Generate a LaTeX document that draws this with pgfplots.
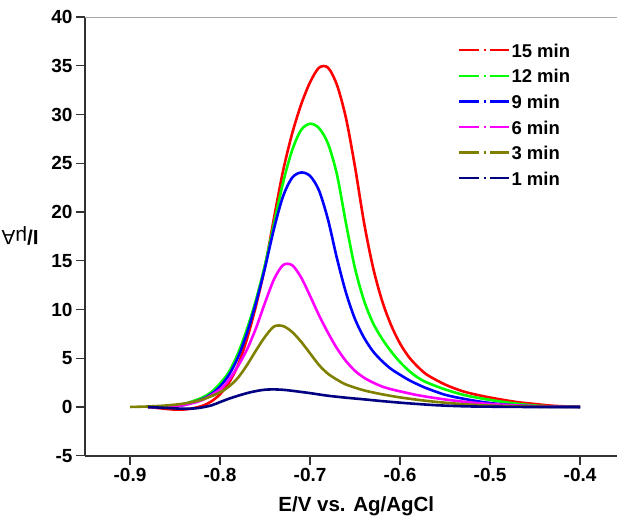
\documentclass[border=0pt]{standalone}
\usepackage{fontspec}
\setmainfont{Liberation Sans}
\usepackage{pgfplots}
\pgfplotsset{compat=1.18}

\definecolor{c15}{RGB}{255,0,0}
\definecolor{c12}{RGB}{0,255,0}
\definecolor{c9}{RGB}{0,0,255}
\definecolor{c6}{RGB}{255,0,255}
\definecolor{c3}{RGB}{128,128,0}
\definecolor{c1}{RGB}{0,0,128}
\definecolor{axisgray}{RGB}{50,50,50}

\begin{document}
\begin{tikzpicture}
\begin{axis}[
  scale only axis, width=532pt, height=438.7pt,
  xmin=-0.95, xmax=-0.359, ymin=-5, ymax=40,
  clip=false,
  axis x line*=bottom, axis y line*=left,
  axis line style={-, draw=axisgray, line width=1.8pt},
  xtick={-0.9,-0.8,-0.7,-0.6,-0.5,-0.4},
  ytick={-5,0,5,10,15,20,25,30,35,40},
  tick align=outside, major tick length=9pt,
  tick style={axisgray, line width=1.3pt},
  /pgf/number format/assume math mode=true,
  xticklabel style={/pgf/number format/.cd, fixed, fixed zerofill, precision=1},
  tick label style={font=\fontsize{19}{19}\selectfont\bfseries},
  xlabel={E/V vs. Ag/AgCl},
  xlabel style={at={(axis description cs:0.51,-0.128)}, anchor=base,
    font=\fontsize{20.5}{20.5}\selectfont\bfseries},
  ylabel={\bfseries I/\mdseries μA},
  ylabel style={at={(axis description cs:-0.122,0.5)}, anchor=center, rotate=90,
    font=\fontsize{20.5}{20.5}\selectfont},
  legend style={at={(0.701,0.943)}, anchor=north west, draw=none, fill=none,
    font=\fontsize{18.5}{18.5}\selectfont\bfseries, row sep=9.6pt, inner sep=0pt,
    nodes={inner sep=1pt, text height=14pt, text depth=0pt}},
  legend cell align=left,
  legend image code/.code={
    \draw[#1, line width=2.4pt] (0pt,0pt) -- (20pt,0pt);
    \draw[#1, line width=2.4pt] (24.5pt,0pt) -- (26.5pt,0pt);
    \draw[#1, line width=2.4pt] (31pt,0pt) -- (50pt,0pt);
  },
  every axis plot/.append style={line width=2.6pt, smooth},
]

% 15 min
\addplot[c15] coordinates {
(-0.88,0) (-0.865,-0.15) (-0.85,-0.27) (-0.835,-0.22) (-0.82,0.1) (-0.81,0.55)
(-0.80,1.3) (-0.79,2.5) (-0.78,4.3) (-0.77,7.0) (-0.76,10.4) (-0.75,14.4)
(-0.74,19.4) (-0.73,24.2) (-0.72,28.0) (-0.71,31.0) (-0.70,33.3) (-0.69,34.8)
(-0.68,34.8) (-0.67,33.0) (-0.66,29.6) (-0.65,24.6) (-0.64,18.9)
(-0.63,14.3) (-0.62,10.9) (-0.61,8.4) (-0.60,6.5) (-0.59,5.1) (-0.58,4.1)
(-0.57,3.3) (-0.55,2.3) (-0.53,1.6) (-0.51,1.15) (-0.49,0.8) (-0.47,0.5)
(-0.45,0.3) (-0.43,0.12) (-0.40,0)
};
\addlegendentry{15 min}

% 12 min
\addplot[c12] coordinates {
(-0.88,0) (-0.86,0) (-0.84,0.3) (-0.83,0.6) (-0.82,0.95) (-0.81,1.5)
(-0.80,2.4) (-0.79,3.6) (-0.78,5.5) (-0.77,8.0) (-0.76,11.0) (-0.75,14.6)
(-0.74,18.8) (-0.73,23.0) (-0.72,26.3) (-0.71,28.4) (-0.70,29.05) (-0.69,28.6)
(-0.68,27.0) (-0.67,23.8) (-0.66,18.8) (-0.65,14.2) (-0.64,10.9) (-0.63,8.6)
(-0.62,7.0) (-0.61,5.7) (-0.60,4.6) (-0.59,3.7) (-0.58,3.0) (-0.57,2.5)
(-0.55,1.8) (-0.53,1.25) (-0.51,0.88) (-0.49,0.58) (-0.47,0.33) (-0.45,0.15)
(-0.43,0.05) (-0.40,0)
};
\addlegendentry{12 min}

% 9 min
\addplot[c9] coordinates {
(-0.88,0) (-0.86,0) (-0.84,0.2) (-0.82,0.8) (-0.81,1.3) (-0.80,2.1)
(-0.79,3.3) (-0.78,5.1) (-0.77,7.6) (-0.76,10.7) (-0.75,14.3) (-0.74,18.3)
(-0.73,21.6) (-0.72,23.5) (-0.71,24.05) (-0.70,23.7) (-0.69,22.2) (-0.68,19.2)
(-0.67,15.2) (-0.66,11.7) (-0.65,9.0) (-0.64,7.1) (-0.63,5.7) (-0.62,4.7)
(-0.61,3.9) (-0.60,3.3) (-0.59,2.75) (-0.58,2.3) (-0.57,1.9) (-0.55,1.25)
(-0.53,0.85) (-0.51,0.53) (-0.49,0.3) (-0.47,0.15) (-0.45,0.06) (-0.43,0.02)
(-0.40,0)
};
\addlegendentry{9 min}

% 6 min
\addplot[c6] coordinates {
(-0.88,0) (-0.86,0) (-0.84,0.2) (-0.82,0.7) (-0.80,1.8) (-0.79,2.8)
(-0.78,4.2) (-0.77,5.9) (-0.76,8.1) (-0.75,10.7) (-0.74,13.1) (-0.73,14.55)
(-0.72,14.55) (-0.71,13.3) (-0.70,11.4) (-0.69,9.4) (-0.68,7.6)
(-0.67,6.0) (-0.66,4.7) (-0.65,3.7) (-0.64,3.0) (-0.63,2.5) (-0.62,2.1)
(-0.61,1.82) (-0.60,1.6) (-0.58,1.2) (-0.56,0.9) (-0.54,0.65) (-0.52,0.45)
(-0.50,0.3) (-0.48,0.2) (-0.46,0.11) (-0.43,0.04) (-0.40,0)
};
\addlegendentry{6 min}

% 3 min
\addplot[c3] coordinates {
(-0.90,0) (-0.88,0.05) (-0.86,0.15) (-0.84,0.35) (-0.82,0.75) (-0.80,1.5)
(-0.79,2.1) (-0.78,3.0) (-0.77,4.3) (-0.76,5.8) (-0.75,7.2) (-0.74,8.25)
(-0.73,8.3) (-0.72,7.7) (-0.71,6.7) (-0.70,5.5) (-0.69,4.3)
(-0.68,3.4) (-0.67,2.8) (-0.66,2.3) (-0.64,1.7) (-0.62,1.3) (-0.60,0.98)
(-0.58,0.73) (-0.56,0.52) (-0.54,0.36) (-0.52,0.23) (-0.49,0.1) (-0.45,0.03)
(-0.40,0)
};
\addlegendentry{3 min}

% 1 min
\addplot[c1] coordinates {
(-0.88,0) (-0.86,-0.1) (-0.84,-0.18) (-0.825,-0.12) (-0.81,0.15) (-0.80,0.5)
(-0.79,0.85) (-0.78,1.15) (-0.77,1.42) (-0.76,1.63) (-0.75,1.77) (-0.74,1.8)
(-0.73,1.76) (-0.72,1.66) (-0.70,1.42) (-0.68,1.15) (-0.66,0.95) (-0.64,0.78)
(-0.62,0.6) (-0.60,0.44) (-0.58,0.3) (-0.56,0.18) (-0.54,0.1) (-0.52,0.05)
(-0.49,0.02) (-0.46,0) (-0.40,0)
};
\addlegendentry{1 min}

% thin upper frame line
\draw[black!35, line width=0.9pt] (rel axis cs:0,1) -- (rel axis cs:1,1);
\coordinate (bl) at (rel axis cs:0,0);
\coordinate (tr) at (rel axis cs:1,1);
\end{axis}
\pgfresetboundingbox
\path ([xshift=-85pt,yshift=-61.3pt]bl) rectangle ([yshift=17pt]tr);
\end{tikzpicture}
\end{document}
